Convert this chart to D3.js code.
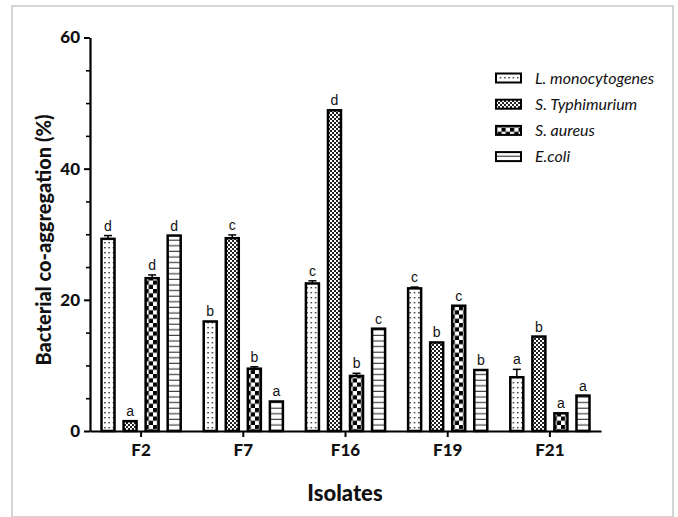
<!DOCTYPE html>
<html>
<head>
<meta charset="utf-8">
<script src="https://cdn.jsdelivr.net/npm/d3@7"></script>
<style>
html,body{margin:0;padding:0;background:#fff;}
svg{display:block;}
</style>
</head>
<body>
<svg id="chart" width="678" height="517"></svg>
<script>
const isolates = ["F2", "F7", "F16", "F19", "F21"];
const series = ["L. monocytogenes", "S. Typhimurium", "S. aureus", "E.coli"];
const valuesLmono  = [29.3, 16.7, 22.5, 21.75, 8.2];
const valuesStyph  = [1.5, 29.4, 48.9, 13.5, 14.4];
const valuesSaureus= [23.3, 9.5, 8.4, 19.1, 2.7];
const valuesEcoli  = [29.8, 4.5, 15.6, 9.3, 5.4];
const errLmono   = [0.5, 0, 0.4, 0.2, 1.2];
const errStyph   = [0, 0.5, 0, 0, 0];
const errSaureus = [0.5, 0.3, 0.4, 0, 0];
const errEcoli   = [0, 0, 0, 0, 0];
const lettersLmono   = ["d", "b", "c", "c", "a"];
const lettersStyph   = ["a", "c", "d", "b", "b"];
const lettersSaureus = ["d", "b", "b", "c", "a"];
const lettersEcoli   = ["d", "a", "c", "b", "a"];
const yTicks = [0, 20, 40, 60];
const yMinorTicks = [5, 10, 15, 25, 30, 35, 45, 50, 55];

const valueSets = [valuesLmono, valuesStyph, valuesSaureus, valuesEcoli];
const errSets = [errLmono, errStyph, errSaureus, errEcoli];
const letterSets = [lettersLmono, lettersStyph, lettersSaureus, lettersEcoli];
const patternIds = ["pDots", "pFine", "pCheck", "pLines"];

const svg = d3.select("#chart");

// outer frame
svg.append("rect").attr("x", 12).attr("y", 6).attr("width", 661).attr("height", 511)
  .attr("fill", "none").attr("stroke", "#c8c8c8").attr("stroke-width", 1.5);

// patterns
const defs = svg.append("defs");
const p1 = defs.append("pattern").attr("id", "pDots").attr("patternUnits", "userSpaceOnUse")
  .attr("width", 4.3).attr("height", 5);
p1.append("rect").attr("width", 4.3).attr("height", 5).attr("fill", "#fff");
p1.append("rect").attr("x", 1).attr("y", 2).attr("width", 1.4).attr("height", 1.4).attr("fill", "#222");
const p2 = defs.append("pattern").attr("id", "pFine").attr("patternUnits", "userSpaceOnUse")
  .attr("width", 4).attr("height", 4);
p2.append("rect").attr("width", 4).attr("height", 4).attr("fill", "#fff");
p2.append("rect").attr("x", 0).attr("y", 0).attr("width", 2).attr("height", 2).attr("fill", "#222");
p2.append("rect").attr("x", 2).attr("y", 2).attr("width", 2).attr("height", 2).attr("fill", "#222");
const p3 = defs.append("pattern").attr("id", "pCheck").attr("patternUnits", "userSpaceOnUse")
  .attr("width", 8.5).attr("height", 8.5);
p3.append("rect").attr("width", 8.5).attr("height", 8.5).attr("fill", "#fff");
p3.append("rect").attr("x", 0).attr("y", 0).attr("width", 4.25).attr("height", 4.25).attr("fill", "#000");
p3.append("rect").attr("x", 4.25).attr("y", 4.25).attr("width", 4.25).attr("height", 4.25).attr("fill", "#000");
const p4 = defs.append("pattern").attr("id", "pLines").attr("patternUnits", "userSpaceOnUse")
  .attr("width", 10).attr("height", 5.6);
p4.append("rect").attr("width", 10).attr("height", 5.6).attr("fill", "#fff");
p4.append("rect").attr("x", 0).attr("y", 4.4).attr("width", 10).attr("height", 1.2).attr("fill", "#444");

const x0 = d3.scaleBand().domain(isolates).range([90, 601]).paddingInner(0).paddingOuter(0);
const x1 = d3.scaleBand().domain(series).range([-44, 44]).paddingInner(0.41).paddingOuter(0.2);
const y = d3.scaleLinear().domain([0, 60]).range([431, 37.5]);

const bars = [];
isolates.forEach((iso, i) => {
  series.forEach((s, j) => {
    bars.push({iso, s, j, v: valueSets[j][i], e: errSets[j][i], l: letterSets[j][i]});
  });
});

const g = svg.append("g");
const barX = d => x0(d.iso) + x0.bandwidth() / 2 + x1(d.s);

bars.filter(d => d.e > 0).forEach(d => {
  const cx = barX(d) + x1.bandwidth() / 2;
  g.append("line").attr("x1", cx).attr("x2", cx).attr("y1", y(d.v)).attr("y2", y(d.v + d.e))
    .attr("stroke", "#000").attr("stroke-width", 1.5);
  g.append("line").attr("x1", cx - 4).attr("x2", cx + 4).attr("y1", y(d.v + d.e)).attr("y2", y(d.v + d.e))
    .attr("stroke", "#000").attr("stroke-width", 1.5);
});

g.selectAll("rect.bar").data(bars).join("rect").attr("class", "bar")
  .attr("x", barX)
  .attr("y", d => y(d.v))
  .attr("width", x1.bandwidth())
  .attr("height", d => y(0) - y(d.v))
  .attr("fill", d => `url(#${patternIds[d.j]})`)
  .attr("stroke", "#000").attr("stroke-width", 2.5);

g.selectAll("text.lett").data(bars).join("text").attr("class", "lett")
  .attr("x", d => barX(d) + x1.bandwidth() / 2)
  .attr("y", d => y(d.v + d.e) - 5)
  .attr("text-anchor", "middle")
  .attr("font-family", "Liberation Sans, Arial, sans-serif")
  .attr("font-size", 14)
  .attr("fill", "#111")
  .text(d => d.l);

// y axis
const yAxis = d3.axisLeft(y).tickValues(yTicks).tickSize(6).tickSizeOuter(0).tickPadding(4);
const ya = svg.append("g").attr("transform", "translate(90,0)").call(yAxis);
ya.select(".domain").attr("stroke", "#000").attr("stroke-width", 2.2);
ya.selectAll(".tick line").attr("stroke", "#000").attr("stroke-width", 2);
ya.selectAll(".tick text").attr("font-family", "Lato, sans-serif").attr("font-weight", 900)
  .attr("font-size", 17).attr("fill", "#111");
const yMinor = d3.axisLeft(y).tickValues(yMinorTicks).tickSize(4).tickFormat("");
const ym = svg.append("g").attr("transform", "translate(90,0)").call(yMinor);
ym.select(".domain").remove();
ym.selectAll(".tick line").attr("stroke", "#000").attr("stroke-width", 1.6);

// x axis
const xAxis = d3.axisBottom(x0).tickSize(6).tickSizeOuter(0).tickPadding(7);
const xa = svg.append("g").attr("transform", "translate(0,431)").call(xAxis);
xa.select(".domain").attr("stroke", "#000").attr("stroke-width", 2.2);
xa.selectAll(".tick line").attr("stroke", "#000").attr("stroke-width", 2);
xa.selectAll(".tick text").attr("font-family", "Lato, sans-serif").attr("font-weight", 900)
  .attr("font-size", 17).attr("fill", "#111");

// axis titles
svg.append("text").attr("transform", "translate(51,240) rotate(-90)")
  .attr("text-anchor", "middle").attr("font-family", "Lato, sans-serif").attr("font-weight", 900)
  .attr("font-size", 20).attr("fill", "#111").text("Bacterial co-aggregation (%)");
svg.append("text").attr("x", 345).attr("y", 501)
  .attr("text-anchor", "middle").attr("font-family", "Lato, sans-serif").attr("font-weight", 900)
  .attr("font-size", 22).attr("fill", "#111").text("Isolates");

// legend
const leg = svg.append("g");
series.forEach((s, j) => {
  const ly = 78 + j * 26.2;
  leg.append("rect").attr("x", 496).attr("y", ly - 4.5).attr("width", 25).attr("height", 9)
    .attr("fill", `url(#${patternIds[j]})`).attr("stroke", "#000").attr("stroke-width", 2);
  leg.append("text").attr("x", 535).attr("y", ly + 5.5)
    .attr("font-family", "Lato, sans-serif").attr("font-style", "italic")
    .attr("font-size", 16).attr("fill", "#111").text(s);
});
</script>
</body>
</html>
